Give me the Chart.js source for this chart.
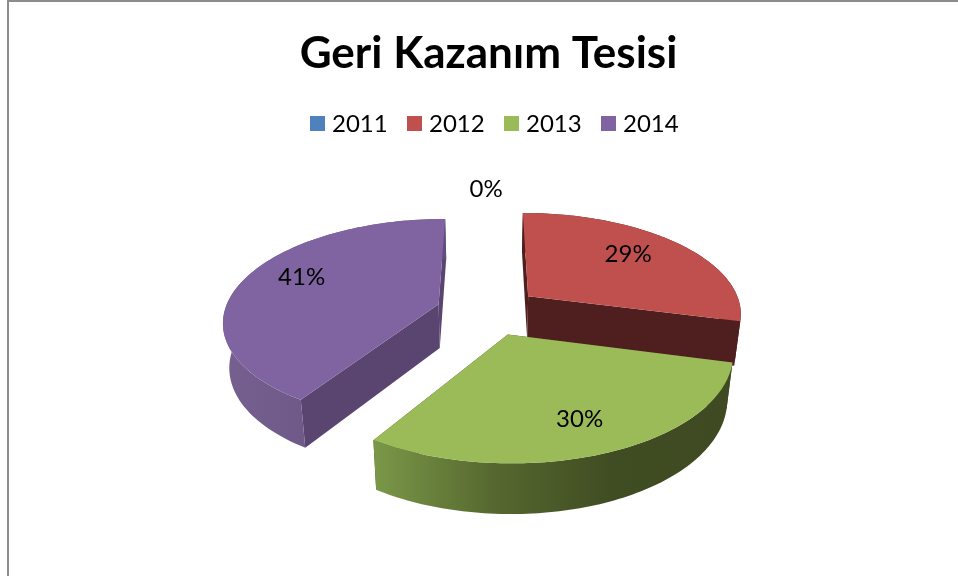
<!DOCTYPE html>
<html>
<head>
<meta charset="utf-8">
<script src="https://cdn.jsdelivr.net/npm/chart.js@4"></script>
<style>
  html, body { margin: 0; background: #fff; }
  #frame { position: absolute; left: 7px; top: 0; width: 960px; height: 580px; border-left: 2px solid #8c8c8c; border-top: 2px solid #8c8c8c; }
  #wrap { position: absolute; left: 0; top: 0; width: 958px; height: 576px; }
</style>
</head>
<body>
<div id="frame"></div>
<div id="wrap"><canvas id="myChart" width="958" height="576"></canvas></div>
<script>
const FONT = "Lato, Carlito, sans-serif";

const chartTitle = "Geri Kazanım Tesisi";
const years = ["2011", "2012", "2013", "2014"];
const shares = [0, 29, 30, 41];

const topColors = ["#4F81BD", "#C0504D", "#9BBB59", "#8064A2"];
const cutColors = ["#2c4a6e", "#4f1f1f", "#3f4a22", "#5a4570"];
// outer wall shading, left to right
const wallColors = [
  ["#4F81BD", "#4F81BD"],
  ["#4f1f1f", "#4f1f1f"],
  ["#7b9848", "#56682f", "#404c22", "#3f4a22"],
  ["#76608f", "#634d7f"],
];
const explode = [0, 52, 52, 52];
const labelDist = [318, 203, 213, 211];
const labelTurn = [-0.4, -3, 0, 5];

// fake 3d view of the pie plane
const CX = 488, CY = 311;
const PERSP = 1376, TILT = 0.47, DEPTH = 44, SHRINK = 0.976;

function project(px, py) {
  const s = PERSP / (PERSP - py);
  return [CX + px * s, CY + py * TILT * s];
}

function projectLow(px, py) {
  const s = PERSP / (PERSP - py);
  const p = project(px, py);
  return [CX + (p[0] - CX) * SHRINK, CY + (p[1] - CY) * SHRINK + DEPTH * s];
}

function poly(ctx, pts, fill) {
  ctx.beginPath();
  pts.forEach((p, i) => (i ? ctx.lineTo(p[0], p[1]) : ctx.moveTo(p[0], p[1])));
  ctx.closePath();
  ctx.fillStyle = fill;
  ctx.fill();
}

const pie3d = {
  id: "pie3d",
  beforeDatasetsDraw(chart) {
    const ctx = chart.ctx;
    const arcs = chart.getDatasetMeta(0).data;
    const slices = arcs.map((arc, i) => {
      const mid = (arc.startAngle + arc.endAngle) / 2;
      const off = arc.options.offset;
      return { i, arc, mid, ox: off * Math.cos(mid), oy: off * Math.sin(mid) };
    }).filter((s) => s.arc.endAngle - s.arc.startAngle > 0.001);
    slices.sort((a, b) => Math.sin(a.mid) - Math.sin(b.mid));

    slices.forEach((s) => {
      const R = s.arc.outerRadius;
      const steps = 90;
      const rim = [];
      for (let k = 0; k <= steps; k++) {
        const a = s.arc.startAngle + (s.arc.endAngle - s.arc.startAngle) * k / steps;
        rim.push([s.ox + R * Math.cos(a), s.oy + R * Math.sin(a)]);
      }
      const apex = [s.ox, s.oy];
      const first = rim[0], last = rim[steps];

      // cut faces
      [first, last].forEach((e) => {
        poly(ctx, [project(apex[0], apex[1]), project(e[0], e[1]), projectLow(e[0], e[1]), projectLow(apex[0], apex[1])], cutColors[s.i]);
      });

      // outer wall
      const upper = rim.map((p) => project(p[0], p[1]));
      const lower = rim.map((p) => projectLow(p[0], p[1])).reverse();
      const xs = upper.map((p) => p[0]);
      const grad = ctx.createLinearGradient(Math.min(...xs), 0, Math.max(...xs), 0);
      wallColors[s.i].forEach((c, n, list) => grad.addColorStop(n / (list.length - 1), c));
      poly(ctx, upper.concat(lower), grad);

      // top face
      poly(ctx, [project(apex[0], apex[1])].concat(upper), topColors[s.i]);
    });
    return false;
  },
  afterDraw(chart) {
    const ctx = chart.ctx;
    const arcs = chart.getDatasetMeta(0).data;
    const total = shares.reduce((a, b) => a + b, 0);
    ctx.save();
    ctx.font = "24px " + FONT;
    ctx.fillStyle = "#000";
    ctx.textAlign = "center";
    ctx.textBaseline = "middle";
    arcs.forEach((arc, i) => {
      const a = (arc.startAngle + arc.endAngle) / 2 + labelTurn[i] * Math.PI / 180;
      const p = project(labelDist[i] * Math.cos(a), labelDist[i] * Math.sin(a));
      ctx.fillText(Math.round(shares[i] / total * 100) + "%", p[0], p[1]);
    });

    // legend row
    let x = 310;
    ctx.textAlign = "left";
    years.forEach((y, i) => {
      ctx.fillStyle = topColors[i];
      ctx.fillRect(x, 116, 15, 15);
      ctx.fillStyle = "#000";
      ctx.fillText(y, x + 22, 124);
      x += 97;
    });
    ctx.restore();
  },
};

new Chart(document.getElementById("myChart"), {
  type: "pie",
  data: {
    labels: years,
    datasets: [{ data: shares, backgroundColor: topColors, offset: explode, borderWidth: 0, radius: 214, clip: false }],
  },
  options: {
    responsive: false,
    animation: false,
    layout: { padding: { top: 27, left: 19 } },
    plugins: {
      legend: { display: false },
      tooltip: { enabled: false },
      title: {
        display: true,
        text: chartTitle,
        color: "#000",
        font: { family: FONT, size: 44, weight: "bold" },
        padding: 0,
      },
    },
  },
  plugins: [pie3d],
});
</script>
</body>
</html>
